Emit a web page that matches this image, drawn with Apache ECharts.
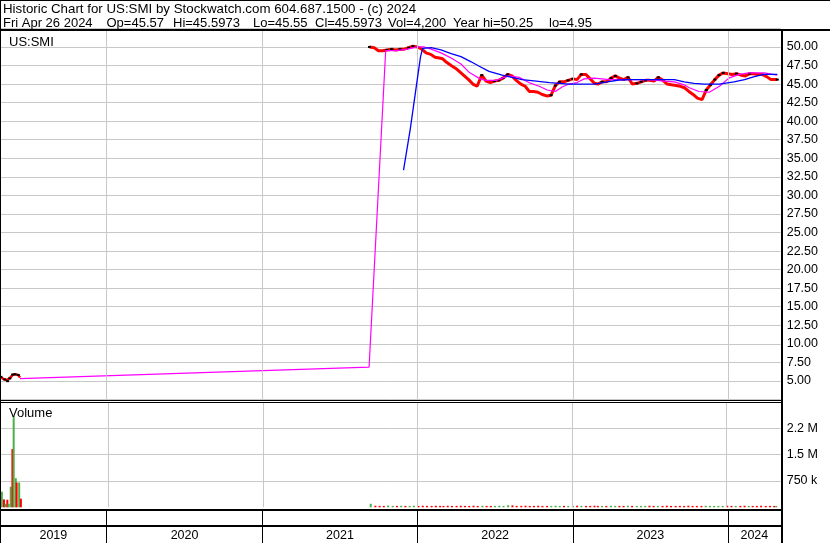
<!DOCTYPE html>
<html><head><meta charset="utf-8">
<script src="https://cdn.jsdelivr.net/npm/echarts@6/dist/echarts.min.js"></script>
<style>html,body{margin:0;padding:0;background:#fff}#c{width:830px;height:543px}</style>
</head><body><div id="c"></div>
<script>
const FONT = '"Liberation Sans", Arial, sans-serif';

// ---- axis / labels ----
const axisStart = '2019-04-25';
const axisEnd = '2024-05-04';
const yearBounds = ['2020-01-01','2021-01-01','2022-01-01','2023-01-01','2024-01-01'];
const yearLabels = ['2019','2020','2021','2022','2023','2024'];
const priceMin = 2.5, priceMax = 52.5, priceStep = 2.5;
const volMin = 0, volMax = 3000000, volStep = 750000;
const volTickLabels = {750000:'750 k', 1500000:'1.5 M', 2250000:'2.2 M'};

const headerLine1 = 'Historic Chart for US:SMI by Stockwatch.com 604.687.1500 - (c) 2024';
const headerLine2 = ['Fri Apr 26 2024','Op=45.57','Hi=45.5973','Lo=45.55','Cl=45.5973','Vol=4,200','Year hi=50.25','lo=4.95'];
const symbolName = 'US:SMI';

// ---- 2019 trading ----
const dates2019 = ['2019-04-27','2019-05-02','2019-05-06','2019-05-10','2019-05-13','2019-05-18','2019-05-22','2019-05-25','2019-05-30','2019-06-01','2019-06-07','2019-06-11'];
const close2019 = [5.55,5.3,5.2,5.1,4.97,5.35,5.6,5.85,5.9,5.75,5.8,5.45];
const vol2019   = [447000,225000,100000,216000,100000,590000,1660000,2610000,830000,707000,707000,245000];
const up2019    = [1,0,1,0,1,1,0,1,1,0,1,0];

// ---- 2021-2024 trading ----
const dates = ['2021-09-10','2021-09-21','2021-10-01','2021-10-11','2021-10-21','2021-11-01','2021-11-11','2021-11-21','2021-12-01','2021-12-11','2021-12-21',
'2022-01-01','2022-01-11','2022-01-21','2022-02-01','2022-02-11','2022-02-21','2022-03-01','2022-03-11','2022-03-21','2022-04-01','2022-04-11','2022-04-21','2022-05-01','2022-05-11','2022-05-21','2022-06-01','2022-06-11','2022-06-21','2022-07-01','2022-07-11','2022-07-21','2022-08-01','2022-08-11','2022-08-21','2022-09-01','2022-09-11','2022-09-21','2022-10-01','2022-10-11','2022-10-21','2022-11-01','2022-11-11','2022-11-21','2022-12-01','2022-12-11','2022-12-21',
'2023-01-01','2023-01-11','2023-01-21','2023-02-01','2023-02-11','2023-02-21','2023-03-01','2023-03-11','2023-03-21','2023-04-01','2023-04-11','2023-04-21','2023-05-01','2023-05-11','2023-05-21','2023-06-01','2023-06-11','2023-06-21','2023-07-01','2023-07-11','2023-07-21','2023-08-01','2023-08-11','2023-08-21','2023-09-01','2023-09-11','2023-09-21','2023-10-01','2023-10-11','2023-10-21','2023-11-01','2023-11-11','2023-11-21','2023-12-01','2023-12-11','2023-12-21',
'2024-01-01','2024-01-11','2024-01-21','2024-02-01','2024-02-11','2024-02-21','2024-03-01','2024-03-11','2024-03-21','2024-04-01','2024-04-11','2024-04-21','2024-04-26'];
const close = [50.0,49.9,49.5,49.5,49.6,49.7,49.6,49.7,49.7,49.9,50.1,
50.0,49.7,49.2,49.0,48.6,48.5,48.4,47.9,47.5,47.1,46.6,46.1,45.6,45.0,44.7,46.2,45.4,45.2,45.4,45.5,45.8,46.3,46.1,45.5,45.0,44.7,44.0,44.0,43.9,43.6,43.4,43.5,44.8,45.3,45.3,45.5,
45.7,45.6,46.3,46.3,45.7,45.1,45.0,45.3,45.3,45.8,46.1,45.8,45.6,45.9,45.0,45.1,45.3,45.5,45.5,45.4,45.9,45.5,45.0,44.9,44.8,44.7,44.5,44.0,43.6,43.1,42.9,44.2,44.9,45.6,46.2,46.5,
46.4,46.3,46.4,46.2,46.1,46.4,46.4,46.3,46.3,46.0,45.6,45.6,45.6];
const vol = [100000,45000,40000,40000,50000,40000,40000,45000,40000,40000,45000,
40000,45000,40000,40000,45000,40000,40000,45000,40000,40000,45000,40000,40000,45000,40000,45000,40000,40000,40000,45000,40000,60000,55000,40000,40000,45000,40000,40000,45000,40000,40000,40000,45000,40000,40000,40000,
40000,45000,40000,40000,40000,45000,40000,40000,40000,45000,40000,40000,40000,45000,40000,40000,40000,40000,45000,40000,40000,40000,45000,40000,40000,40000,40000,45000,40000,40000,40000,45000,40000,40000,40000,40000,
45000,40000,40000,40000,45000,40000,40000,40000,45000,40000,40000,40000,40000];
const up = [1,0,0,0,1,1,0,1,0,1,1,
0,0,0,0,0,0,0,0,0,0,0,0,0,0,0,1,0,0,1,1,1,1,0,0,0,0,0,0,0,0,0,1,1,1,0,1,
1,0,1,0,0,0,0,1,0,1,1,0,0,1,0,1,1,1,0,0,1,0,0,0,0,0,0,0,0,0,0,1,1,1,1,1,
0,0,1,0,0,1,0,0,0,0,0,0,1];

// ---- moving averages ----
const maShortDates = ['2019-06-11','2021-09-09','2021-10-18','2021-11-14','2021-12-08','2022-01-01','2022-01-17','2022-02-02','2022-02-25','2022-03-21','2022-04-13','2022-05-02','2022-05-14','2022-05-28','2022-06-11','2022-07-05','2022-07-24','2022-08-04','2022-08-28','2022-09-20','2022-10-14','2022-11-02','2022-11-21','2022-12-07','2022-12-23','2023-01-11','2023-01-28','2023-02-20','2023-03-28','2023-05-14','2023-06-30','2023-08-04','2023-08-28','2023-09-20','2023-10-02','2023-10-25','2023-11-18','2023-12-12','2024-01-03','2024-01-27','2024-02-20','2024-03-26','2024-04-26'];
const maShortValues = [5.3,6.87,49.5,49.5,49.7,50.0,50.0,49.7,49.2,48.5,47.7,46.6,46.2,45.7,45.5,45.5,45.9,46.1,45.9,45.2,44.7,44.2,44.0,44.6,45.0,45.2,45.7,45.8,45.6,45.6,45.6,45.4,45.3,44.9,44.5,44.0,43.9,44.7,45.8,46.3,46.5,46.5,46.2];
const maLongDates = ['2021-11-29','2021-12-15','2021-12-31','2022-01-08','2022-01-13','2022-02-02','2022-02-25','2022-03-21','2022-04-13','2022-05-07','2022-05-26','2022-06-18','2022-07-19','2022-08-11','2022-09-04','2022-10-07','2022-11-07','2022-12-23','2023-02-20','2023-03-04','2023-03-23','2023-04-20','2023-05-19','2023-08-28','2023-09-20','2023-10-13','2023-11-06','2023-12-12','2024-01-15','2024-02-09','2024-03-03','2024-03-26','2024-04-26'];
const maLongValues = [33.4,39.0,45.5,48.7,49.8,49.9,49.6,49.1,48.7,48.0,47.4,46.7,46.2,45.9,45.6,45.4,45.2,45.0,45.0,45.1,45.3,45.55,45.6,45.6,45.3,45.1,45.0,45.0,45.3,45.6,46.0,46.3,46.3];

// ---- build ----
const RED = '#FF0000', GREEN = '#4DAF4A', GRID = '#C8C8C8';
const zip = (a, b) => a.map((d, i) => [d, b[i]]);
const priceItems = (ds, cs, ups) => ds.map((d, i) => ({value: [d, cs[i]], symbol: ups[i] ? 'rect' : 'none'}));
const volItems = (ds, vs, ups) => ds.map((d, i) => ({value: [d, vs[i]], itemStyle: {color: ups[i] ? GREEN : RED}}));
const spanEdges = [axisStart].concat(yearBounds, [axisEnd]);
const yearAreas = yearLabels.map((y, i) => [{xAxis: spanEdges[i], name: y}, {xAxis: spanEdges[i + 1]}]);
const boundLines = (color) => yearBounds.map(d => ({xAxis: d, lineStyle: {color: color, width: 1, type: 'solid'}}));

const hiddenX = (gi) => ({type: 'time', gridIndex: gi, min: axisStart, max: axisEnd, show: false});

const chart = echarts.init(document.getElementById('c'), null, {renderer: 'canvas'});
const line2X = [3, 106.5, 173, 253, 315, 388, 453, 549];
const H1FONT = '13.3px ' + FONT;
const HFONT = '13px ' + FONT;
chart.setOption({
  animation: false,
  backgroundColor: '#fff',
  textStyle: {fontFamily: FONT},
  grid: [
    {left: 0, right: 49.3, top: 28.4, height: 371.1},
    {left: 0, right: 49.3, top: 402.1, height: 105.2},
    {left: 0, right: 49.3, top: 511, height: 32}
  ],
  xAxis: [hiddenX(0), hiddenX(1), hiddenX(2)],
  yAxis: [
    {type: 'value', gridIndex: 0, position: 'right', min: priceMin, max: priceMax, interval: priceStep,
     axisLine: {show: false}, axisTick: {show: false},
     axisLabel: {margin: 6, fontSize: 12.5, color: '#000', fontFamily: FONT,
       formatter: v => (v < 4 || v > 51) ? '' : v.toFixed(2)},
     splitLine: {lineStyle: {color: GRID, width: 1}}},
    {type: 'value', gridIndex: 1, position: 'right', min: volMin, max: volMax, interval: volStep,
     axisLine: {show: false}, axisTick: {show: false},
     axisLabel: {margin: 6, fontSize: 12.5, color: '#000', fontFamily: FONT,
       formatter: v => volTickLabels[v] || ''},
     splitLine: {showMinLine: false, lineStyle: {color: GRID, width: 1}}},
    {type: 'value', gridIndex: 2, min: 0, max: 1, show: false}
  ],
  series: [
    {type: 'line', xAxisIndex: 0, yAxisIndex: 0, z: 1, data: [[axisStart, null]], silent: true,
     markLine: {silent: true, symbol: 'none', label: {show: false}, data: boundLines(GRID)}},
    {type: 'line', xAxisIndex: 1, yAxisIndex: 1, z: 1, data: [[axisStart, null]], silent: true,
     markLine: {silent: true, symbol: 'none', label: {show: false}, data: boundLines(GRID)}},
    {type: 'line', xAxisIndex: 0, yAxisIndex: 0, z: 3, data: priceItems(dates2019, close2019, up2019),
     showSymbol: true, symbolSize: [3, 2], itemStyle: {color: '#000'}, lineStyle: {color: RED, width: 2.5}},
    {type: 'line', xAxisIndex: 0, yAxisIndex: 0, z: 3, data: priceItems(dates, close, up),
     showSymbol: true, symbolSize: [3, 2], itemStyle: {color: '#000'}, lineStyle: {color: RED, width: 3}},
    {type: 'line', xAxisIndex: 0, yAxisIndex: 0, z: 4, data: zip(maShortDates, maShortValues),
     showSymbol: false, lineStyle: {color: '#FF00FF', width: 1.2}},
    {type: 'line', xAxisIndex: 0, yAxisIndex: 0, z: 5, data: zip(maLongDates, maLongValues),
     showSymbol: false, lineStyle: {color: '#0000FF', width: 1.3}},
    {type: 'bar', xAxisIndex: 1, yAxisIndex: 1, z: 3, barWidth: 2, data: volItems(dates2019, vol2019, up2019)},
    {type: 'bar', xAxisIndex: 1, yAxisIndex: 1, z: 3, barWidth: 2, data: volItems(dates, vol, up)},
    {type: 'line', xAxisIndex: 2, yAxisIndex: 2, z: 3, data: [[axisStart, null]], silent: true,
     markLine: {silent: true, symbol: 'none', label: {show: false}, data: boundLines('#000')},
     markArea: {silent: true, itemStyle: {color: 'rgba(0,0,0,0)'},
       label: {show: true, position: 'insideBottom', distance: 1, color: '#000', fontSize: 12.5, fontFamily: FONT},
       data: yearAreas}}
  ],
  graphic: [
    {type: 'rect', shape: {x: 0, y: 0, width: 830, height: 1}, style: {fill: '#000'}, z: 100},
    {type: 'rect', shape: {x: 0, y: 0, width: 1, height: 543}, style: {fill: '#000'}, z: 100},
    {type: 'rect', shape: {x: 0, y: 29, width: 830, height: 2}, style: {fill: '#000'}, z: 100},
    {type: 'rect', shape: {x: 0, y: 400, width: 781, height: 1}, style: {fill: '#000'}, z: 100},
    {type: 'rect', shape: {x: 0, y: 402, width: 781, height: 1}, style: {fill: '#000'}, z: 100},
    {type: 'rect', shape: {x: 0, y: 509, width: 781, height: 2}, style: {fill: '#000'}, z: 100},
    {type: 'rect', shape: {x: 0, y: 525, width: 781, height: 2}, style: {fill: '#000'}, z: 100},
    {type: 'rect', shape: {x: 781, y: 29, width: 2, height: 514}, style: {fill: '#000'}, z: 100},
    {type: 'text', x: 3, y: 9, z: 100, style: {text: headerLine1, font: H1FONT, fill: '#000', verticalAlign: 'middle', textVerticalAlign: 'middle'}},
    ...headerLine2.map((t, i) => ({type: 'text', x: line2X[i], y: 23, z: 100,
      style: {text: t, font: HFONT, fill: '#000', verticalAlign: 'middle', textVerticalAlign: 'middle'}})),
    {type: 'text', x: 9, y: 42, z: 100, style: {text: symbolName, font: HFONT, fill: '#000', verticalAlign: 'middle', textVerticalAlign: 'middle'}},
    {type: 'text', x: 9, y: 413, z: 100, style: {text: 'Volume', font: HFONT, fill: '#000', verticalAlign: 'middle', textVerticalAlign: 'middle'}}
  ]
});
</script>
</body></html>
